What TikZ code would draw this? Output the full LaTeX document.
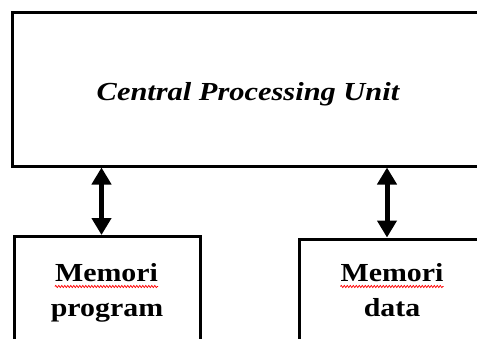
\documentclass[tikz,border=0pt]{standalone}
\usepackage{fontspec}
\setmainfont{Liberation Serif}
\newfontfamily\widefont[FakeStretch=1.17]{Liberation Serif}
\newfontfamily\memfont[FakeStretch=1.15]{Liberation Serif}
\usetikzlibrary{arrows.meta,decorations.pathmorphing}

\tikzset{
  blockbox/.style={draw=black, line width=3pt, fill=white, inner sep=0pt},
  biarrow/.style={line width=5pt, {Triangle[length=17pt,width=19pt]}-{Triangle[length=17pt,width=19pt]}},
  cputext/.style={inner sep=0pt, anchor=base, font=\widefont\fontsize{26}{30}\selectfont\bfseries\itshape},
  memtext/.style={inner sep=0pt, anchor=base, font=\memfont\fontsize{26}{31}\selectfont\bfseries},
  spellmark/.style={draw=red, line width=0.7pt, decorate,
    decoration={snake, amplitude=1.1pt, segment length=3pt}}
}

\begin{document}
\begin{tikzpicture}[x=1pt, y=1pt]
  \useasboundingbox (0,0) rectangle (477,-338);

  % processor block, running past the right edge
  \node[blockbox, minimum width=478pt, minimum height=153.5pt] (cpu) at (251,-89.25) {};
  \node[cputext] (cpulabel) at (248,-100) {Central Processing Unit};

  % memory blocks, running past the bottom edge
  \node[blockbox, minimum width=186pt, minimum height=130pt] (prog) at (107,-301.5) {};
  \node[blockbox, minimum width=187pt, minimum height=130pt] (data) at (392.5,-304) {};

  \node[memtext] (m1) at (106.5,-281) {Memori};
  \node[memtext] (p1) at (107,-316.5) {program};
  \node[memtext] (m2) at (392,-281) {Memori};
  \node[memtext] (d2) at (392,-316.5) {data};

  % spell-check underlines
  \draw[spellmark] ([yshift=-5.5pt]m1.base west) -- ([yshift=-5.5pt]m1.base east);
  \draw[spellmark] ([yshift=-5.5pt]m2.base west) -- ([yshift=-5.5pt]m2.base east);

  % bus connections
  \coordinate (busA) at (101.5,0);
  \coordinate (busB) at (387,0);
  \draw[biarrow] (cpu.south -| busA) -- (prog.north -| busA);
  \draw[biarrow] (cpu.south -| busB) -- (data.north -| busB);
\end{tikzpicture}
\end{document}
